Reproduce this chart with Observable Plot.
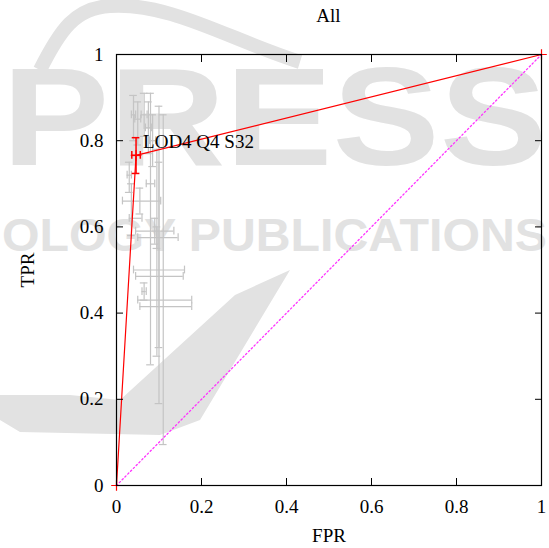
<!DOCTYPE html>
<html><head><meta charset="utf-8">
<script src="https://cdn.jsdelivr.net/npm/d3@7"></script>
<script src="https://cdn.jsdelivr.net/npm/@observablehq/plot@0.6"></script>
<style>
body{margin:0;background:#fff;}
#wrap{position:relative;width:549px;height:548px;overflow:hidden;font-family:"Liberation Serif","Times New Roman",serif;}
#wm{position:absolute;left:0;top:0;}
#title{position:absolute;left:116px;top:4px;width:425px;text-align:center;font-size:19px;line-height:24px;color:#000;}
#chart{position:absolute;left:0;top:30px;}
</style></head>
<body>
<div id="wrap">
<svg id="wm" width="549" height="548">
  <path d="M40,70 C60,30 75,8 110,6 C170,2 230,40 300,62" fill="none" stroke="#e2e2e2" stroke-width="14"/>
  <text x="2" y="165" font-family="Liberation Sans, Arial, sans-serif" font-weight="bold" font-size="140" fill="#e2e2e2" textLength="545" lengthAdjust="spacingAndGlyphs">PRESS</text>
  <text x="2" y="251" font-family="Liberation Sans, Arial, sans-serif" font-weight="bold" font-size="46" fill="#e2e2e2" textLength="545" lengthAdjust="spacingAndGlyphs">OLOGY PUBLICATIONS</text>
  <path d="M0,395 L70,395 L120,400 L235,295 L290,270 L200,420 L160,435 L20,432 L0,420 Z" fill="#e2e2e2"/>
</svg>
<div id="title">All</div>
<div id="chart"></div>
</div>
<script>
// Red curve (selected configuration)
const redFPR = [0, 0.046, 1];
const redTPR = [0, 0.766, 1];
const redLabel = "LOD4 Q4 S32";
const redErr = {x: 0.046, y: 0.766, xlo: 0.036, xhi: 0.056, ylo: 0.724, yhi: 0.807};

// Gray background configurations (center, x range, y range)
const grayX   = [0.040, 0.050, 0.065, 0.075, 0.085, 0.055, 0.035, 0.090, 0.095, 0.100, 0.095, 0.110, 0.100, 0.080, 0.065, 0.030];
const grayY   = [0.860, 0.850, 0.860, 0.830, 0.800, 0.660, 0.620, 0.590, 0.575, 0.500, 0.485, 0.430, 0.415, 0.700, 0.450, 0.720];
const grayXLo = [0.035, 0.043, 0.058, 0.068, 0.078, 0.014, 0.030, 0.045, 0.050, 0.040, 0.045, 0.050, 0.055, 0.070, 0.060, 0.025];
const grayXHi = [0.045, 0.057, 0.072, 0.082, 0.092, 0.104, 0.060, 0.135, 0.145, 0.160, 0.157, 0.177, 0.177, 0.090, 0.070, 0.035];
const grayYLo = [0.800, 0.790, 0.810, 0.770, 0.740, 0.630, 0.580, 0.560, 0.550, 0.190, 0.300, 0.095, 0.320, 0.280, 0.430, 0.680];
const grayYHi = [0.905, 0.890, 0.910, 0.890, 0.860, 0.690, 0.700, 0.620, 0.600, 0.880, 0.780, 0.860, 0.750, 0.910, 0.470, 0.750];

const diagX = [0, 1];
const diagY = [0, 1];
const ticks = [0, 0.2, 0.4, 0.6, 0.8, 1];

const gray = grayX.map((x, i) => ({x, y: grayY[i], xlo: grayXLo[i], xhi: grayXHi[i], ylo: grayYLo[i], yhi: grayYHi[i]}));
const red = redFPR.map((x, i) => ({x, y: redTPR[i]}));
const diag = diagX.map((x, i) => ({x, y: diagY[i]}));
const cap = 0.009;
const fmt = d => String(+d.toFixed(1));
const font = "Liberation Serif, Times New Roman, serif";

function errorMarks(data, color, width) {
  return [
    Plot.ruleX(data, {x: "x", y1: "ylo", y2: "yhi", stroke: color, strokeWidth: width}),
    Plot.ruleY(data, {y: "y", x1: "xlo", x2: "xhi", stroke: color, strokeWidth: width}),
    Plot.ruleY(data, {y: "ylo", x1: d => d.x - cap, x2: d => d.x + cap, stroke: color, strokeWidth: width}),
    Plot.ruleY(data, {y: "yhi", x1: d => d.x - cap, x2: d => d.x + cap, stroke: color, strokeWidth: width}),
    Plot.ruleX(data, {x: "xlo", y1: d => d.y - cap, y2: d => d.y + cap, stroke: color, strokeWidth: width}),
    Plot.ruleX(data, {x: "xhi", y1: d => d.y - cap, y2: d => d.y + cap, stroke: color, strokeWidth: width})
  ];
}

const chart = Plot.plot({
  width: 549,
  height: 518,
  marginLeft: 116,
  marginRight: 8,
  marginTop: 24,
  marginBottom: 63,
  style: {background: "transparent", fontFamily: font, fontSize: "19px", color: "#000", overflow: "visible"},
  x: {domain: [0, 1]},
  y: {domain: [0, 1]},
  marks: [
    ...errorMarks(gray, "#c4c4c4", 1.2),
    Plot.line(diag, {x: "x", y: "y", stroke: "#ff33ff", strokeWidth: 1.3, strokeDasharray: "1.5,2.5"}),
    Plot.line(red, {x: "x", y: "y", stroke: "#ff0000", strokeWidth: 1.2}),
    ...errorMarks([redErr], "#ff0000", 1.5),
    Plot.dot(red, {x: "x", y: "y", symbol: "plus", r: 3.5, stroke: "#ff0000", strokeWidth: 1.2}),
    Plot.text([redErr], {x: "x", y: "y", text: () => redLabel, textAnchor: "start", dx: 7, dy: -13, fontSize: 19, fontFamily: font, fill: "#000"}),
    Plot.frame({stroke: "#000", strokeWidth: 1.2}),
    Plot.axisX({anchor: "bottom", ticks, tickSize: 7, dy: -7, text: null, label: null, stroke: "#000"}),
    Plot.axisX({anchor: "top", ticks, tickSize: 7, dy: 7, text: null, label: null, stroke: "#000"}),
    Plot.axisY({anchor: "left", ticks, tickSize: 7, dx: 7, text: null, label: null, stroke: "#000"}),
    Plot.axisY({anchor: "right", ticks, tickSize: 7, dx: -7, text: null, label: null, stroke: "#000"}),
    Plot.axisX({anchor: "bottom", ticks, tickSize: 0, tickPadding: 14, tickFormat: fmt, fontSize: 19, label: "FPR", labelAnchor: "center", labelArrow: "none", labelOffset: 56}),
    Plot.axisY({anchor: "left", ticks, tickSize: 0, tickPadding: 13, tickFormat: fmt, fontSize: 19, label: "TPR", labelAnchor: "center", labelArrow: "none", labelOffset: 96})
  ]
});
document.getElementById("chart").appendChild(chart);
</script>
</body></html>
